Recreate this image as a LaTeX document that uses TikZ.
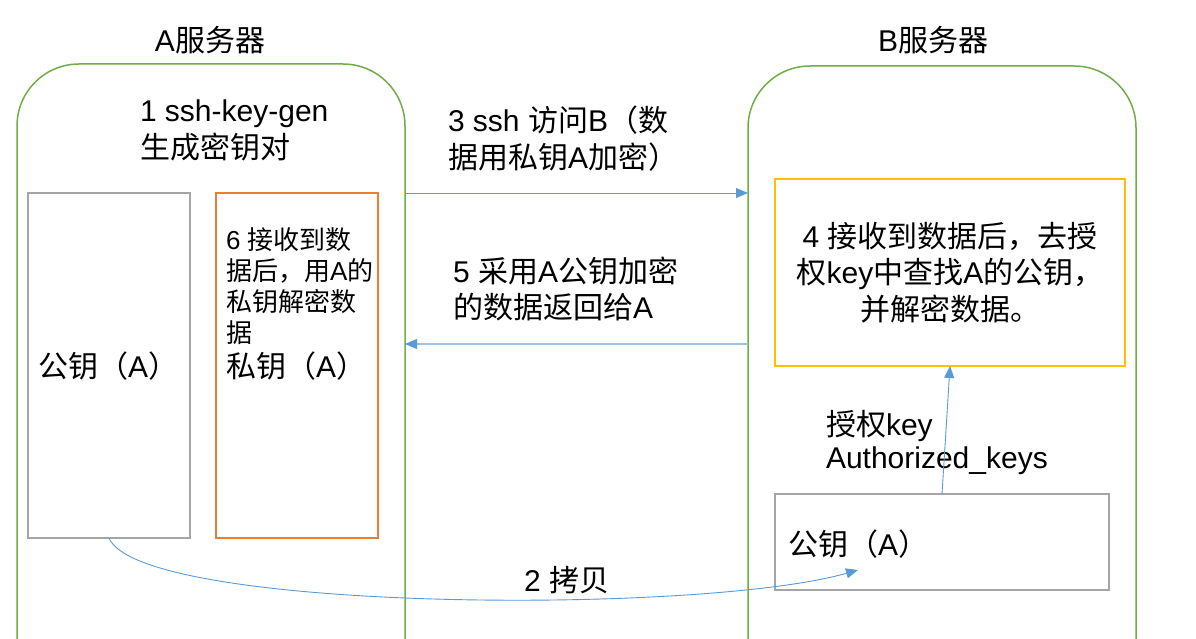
\documentclass[tikz,border=0pt]{standalone}
\usepackage{fontspec}
\setmainfont{Liberation Sans}
\newfontfamily\cjk{Noto Sans CJK SC}
\usetikzlibrary{arrows.meta}
\definecolor{grn}{HTML}{70AD47}
\definecolor{org}{HTML}{ED7D31}
\definecolor{ylw}{HTML}{FFC000}
\definecolor{gry}{HTML}{A5A5A5}
\definecolor{blu}{HTML}{5B9BD5}
\definecolor{lblu}{HTML}{9DC3E6}
\begin{document}
\begin{tikzpicture}[x=1pt,y=-1pt,
  every node/.style={inner sep=0pt, outer sep=0pt},
  srv/.style={draw=grn, line width=1.5pt, rounded corners=62pt, anchor=north west},
  box/.style={line width=1.5pt, anchor=north west},
  txt/.style={font=\fontsize{30}{37}\selectfont, align=left, anchor=base west},
  small/.style={font=\fontsize{26}{31}\selectfont, align=left, anchor=base west},
  arr/.style={draw=blu, line width=0.9pt, -{Triangle[length=12pt,width=10pt]}},
  arrlight/.style={draw=lblu, line width=1.2pt, -{Triangle[length=12pt,width=10pt,color=blu]}},
]
\useasboundingbox (0,0) rectangle (1196,639);
\fill[white] (0,0) rectangle (1196,639);
% servers
\node[srv, minimum width=388pt, minimum height=660pt] (srvA) at (17,64) {};
\node[srv, minimum width=388pt, minimum height=660pt] (srvB) at (748,66) {};
% boxes
\node[box, draw=gry, minimum width=162pt, minimum height=345pt] (pubA) at (28,193) {};
\node[box, draw=org, minimum width=162pt, minimum height=345pt] (privA) at (216,193) {};
\node[box, draw=ylw, minimum width=350pt, minimum height=187pt] (yel) at (775,179) {};
\node[box, draw=gry, minimum width=334pt, minimum height=96pt] (pubB) at (775,494) {};
% titles
\node[txt, anchor=base] (tA) at (210,52) {A{\cjk 服务器}};
\node[txt, anchor=base] (tB) at (933,52) {B{\cjk 服务器}};
% texts (base anchor = baseline of the last line)
\node[txt] (t1) at (140,159) {1 ssh-key-gen\\{\cjk 生成密钥对}};
\node[txt] (t3) at (448,169) {3 ssh {\cjk 访问}B{\cjk （数}\\{\cjk 据用私钥}A{\cjk 加密）}};
\node[txt, font=\fontsize{30}{36}\selectfont] (t5) at (453,318) {5 {\cjk 采用}A{\cjk 公钥加密}\\{\cjk 的数据返回给}A};
\node[small] (t6) at (226,342) {6 {\cjk 接收到数}\\{\cjk 据后，用}A{\cjk 的}\\{\cjk 私钥解密数}\\{\cjk 据}};
\node[txt] (tpriv) at (226,377) {{\cjk 私钥（}A{\cjk ）}};
\node[txt] (tpubA) at (38,377) {{\cjk 公钥（}A{\cjk ）}};
\node[txt, align=center, anchor=base, font=\fontsize{30}{36.5}\selectfont] (t4) at (950,320) {4 {\cjk 接收到数据后，去授}\\{\cjk 权}key{\cjk 中查找}A{\cjk 的公钥，}\\{\cjk 并解密数据。}};
\node[txt, font=\fontsize{30}{33}\selectfont] (tauth) at (826,468) {{\cjk 授权}key\\Authorized\_keys};
\node[txt] (tpubB) at (788,555) {{\cjk 公钥（}A{\cjk ）}};
\node[txt] (t2) at (524,591) {2 {\cjk 拷贝}};
% connectors
\draw[arr] (pubA.north -| srvA.east) -- (pubA.north -| srvB.west);
\coordinate (r5) at (0,344);
\draw[arrlight] (r5 -| srvB.west) -- (r5 -| srvA.east);
\draw[arr] (pubB.north) -- (yel.south);
\coordinate (c2) at (858,570);
\draw[arr] (pubA.south) .. controls (140,612) and (700,615) .. (c2);
\end{tikzpicture}
\end{document}
